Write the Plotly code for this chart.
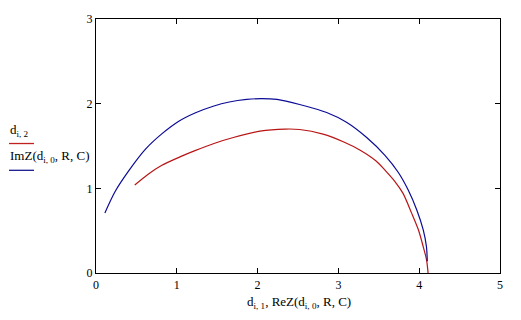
import plotly.graph_objects as go

# Blue: ImZ vs ReZ
blue_x = [0.11, 0.235, 0.40, 0.61, 0.81, 1.02, 1.225, 1.45, 1.65, 1.865, 2.05, 2.24, 2.52, 2.855, 3.10, 3.35, 3.576, 3.74, 3.864, 3.97, 4.05, 4.09, 4.10]
blue_y = [0.71, 0.96, 1.20, 1.46, 1.64, 1.79, 1.89, 1.97, 2.02, 2.05, 2.06, 2.05, 1.99, 1.895, 1.78, 1.60, 1.39, 1.19, 0.98, 0.745, 0.51, 0.31, 0.14]

# Red: measured data d_{i,2} vs d_{i,1}
red_x = [0.48, 0.65, 0.81, 1.06, 1.225, 1.46, 1.70, 2.03, 2.34, 2.52, 2.81, 3.06, 3.27, 3.47, 3.576, 3.70, 3.80, 3.905, 3.99, 4.05, 4.09, 4.11]
red_y = [1.04, 1.17, 1.27, 1.38, 1.445, 1.53, 1.60, 1.675, 1.70, 1.695, 1.64, 1.55, 1.45, 1.32, 1.215, 1.08, 0.94, 0.71, 0.51, 0.31, 0.16, 0.0]

x_ticks = [0, 1, 2, 3, 4, 5]
y_ticks = [0, 1, 2, 3]

SERIF = "Liberation Serif, Times New Roman, serif"

fig = go.Figure()
fig.add_trace(go.Scatter(x=red_x, y=red_y, mode="lines",
                         line=dict(color="#B81414", width=1.2, shape="spline", smoothing=0.8),
                         showlegend=False))
fig.add_trace(go.Scatter(x=blue_x, y=blue_y, mode="lines",
                         line=dict(color="#0A0A96", width=1.2, shape="spline", smoothing=0.8),
                         showlegend=False))

axis_common = dict(showgrid=False, zeroline=False, showline=True, linecolor="black",
                   linewidth=1.3, mirror="ticks", ticks="inside", ticklen=5,
                   tickcolor="black", tickwidth=1.3,
                   tickfont=dict(family=SERIF, size=12, color="black"))

fig.update_xaxes(range=[0, 5], tickvals=x_ticks, **axis_common)
fig.update_yaxes(range=[0, 3], tickvals=y_ticks, **axis_common)

fig.update_layout(width=521, height=320, margin=dict(l=96, r=21, t=17, b=47),
                  plot_bgcolor="white", paper_bgcolor="white")


def px_to_paper(px, py):
    return ((px - 96) / (521 - 96 - 21), (320 - 47 - py) / (320 - 17 - 47))


# Axis title
tx, ty = px_to_paper(299, 303)
fig.add_annotation(x=tx, y=ty, xref="paper", yref="paper", yanchor="middle",
                   text="d<sub>i, 1</sub>, ReZ(d<sub>i, 0</sub>, R, C)", showarrow=False,
                   font=dict(family=SERIF, size=13, color="black"))

# Legend-like labels on left
lx, ly = px_to_paper(8, 129)
fig.add_annotation(x=lx, y=ly, xref="paper", yref="paper", xanchor="left", yanchor="middle",
                   text="d<sub>i, 2</sub>", showarrow=False,
                   font=dict(family=SERIF, size=13, color="black"))
lx, ly = px_to_paper(8, 156)
fig.add_annotation(x=lx, y=ly, xref="paper", yref="paper", xanchor="left", yanchor="middle",
                   text="ImZ(d<sub>i, 0</sub>, R, C)", showarrow=False,
                   font=dict(family=SERIF, size=13, color="black"))

x0, y0 = px_to_paper(9, 142.5)
x1, _ = px_to_paper(34, 142.5)
fig.add_shape(type="line", xref="paper", yref="paper", x0=x0, x1=x1, y0=y0, y1=y0,
              line=dict(color="#C02020", width=1.3))
x0, y0 = px_to_paper(9, 169.5)
x1, _ = px_to_paper(34, 169.5)
fig.add_shape(type="line", xref="paper", yref="paper", x0=x0, x1=x1, y0=y0, y1=y0,
              line=dict(color="#1A1A90", width=1.3))

fig.write_html("out.html")
